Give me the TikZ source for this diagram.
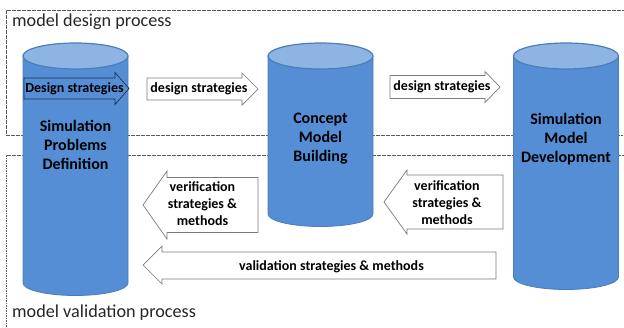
\documentclass[tikz,border=0pt]{standalone}
\usepackage{fontspec}
\setmainfont{Carlito}
\definecolor{cylblue}{HTML}{558ED5}
\definecolor{cyltop}{HTML}{8EB4E3}
\definecolor{cyledge}{HTML}{4A7EBB}
\definecolor{arrowgray}{HTML}{7A7A7A}
\definecolor{framegray}{HTML}{595959}
\definecolor{darknavy}{HTML}{1F3150}
\tikzset{
  process/.style={ % dashed frame of a process
    draw=framegray, line width=0.6pt,
    dash pattern=on 1.6pt off 0.9pt,
  },
  processlabel/.style={ % name of a process
    anchor=west, inner sep=0pt,
    font=\fontsize{18.2}{21}\selectfont, text=black!85,
  },
  cylbody/.style={ % side of a cylinder
    fill=cylblue, draw=cyledge, line width=0.8pt,
  },
  cyltopface/.style={ % lighter top of a cylinder
    fill=cyltop, draw=cyledge, line width=1.2pt,
  },
  stage/.style={ % text inside a cylinder
    align=center, inner sep=0pt,
    font=\bfseries\fontsize{16}{19}\selectfont,
  },
  blockarrow/.style={ % outlined block arrow
    fill=white, draw=arrowgray, line width=0.7pt, line join=miter,
  },
  arrowtext/.style={ % text on a block arrow
    align=center, inner sep=0pt,
    font=\bfseries\fontsize{14}{17}\selectfont,
  },
}

\begin{document}
\begin{tikzpicture}[x=1pt,y=-1pt]
  \useasboundingbox (0,0) rectangle (624,327);
  % the two processes
  \draw[process] (626,10) -- (6,10) -- (6,135) -- (626,135);
  \draw[process] (626,155) -- (6,155) -- (6,330);
  \node[processlabel] (design) at (12,22) {model design process};
  \node[processlabel] (validation) at (12,313) {model validation process};
  % cylinders
  \foreach \cx/\cb in {75.5/283, 320.5/214, 566/277}{
    \path[cylbody] (\cx-52.5,56) -- (\cx-52.5,\cb)
      arc[start angle=180, end angle=360, x radius=52.5pt, y radius=12.5pt]
      -- (\cx+52.5,56) -- cycle;
    \path[cyltopface] (\cx,56) ellipse[x radius=52.5pt, y radius=13pt];
  }
  \node[stage] (spd) at (75.5,145) {Simulation\\Problems\\Definition};
  \node[stage] (cmb) at (320.5,139) {Concept\\Model\\Building};
  \node[stage] (smd) at (566,139) {Simulation\\Model\\Development};
  % design arrows
  \draw[blockarrow, fill=cylblue, draw=darknavy] (24,78) -- (115,78) -- (115,72.5)
    -- (129,88.5) -- (115,104.5) -- (115,99) -- (24,99) -- cycle;
  \draw[blockarrow] (147,78) -- (242,78) -- (242,73) -- (258,89) -- (242,105)
    -- (242,100) -- (147,100) -- cycle;
  \draw[blockarrow] (390,75.5) -- (485,75.5) -- (485,71.5) -- (500,87)
    -- (485,102.5) -- (485,98.5) -- (390,98.5) -- cycle;
  % verification and validation arrows
  \draw[blockarrow] (258,177.5) -- (167,177.5) -- (167,171) -- (143,205)
    -- (167,239) -- (167,232.5) -- (258,232.5) -- cycle;
  \draw[blockarrow] (503,175) -- (407,175) -- (407,170) -- (384,202)
    -- (407,234) -- (407,229) -- (503,229) -- cycle;
  \draw[blockarrow] (496,252) -- (162,252) -- (162,246) -- (143,265)
    -- (162,284) -- (162,279) -- (496,279) -- cycle;
  \node[arrowtext] (ds0) at (74.5,88.5) {Design strategies};
  \node[arrowtext] (ds1) at (199,89) {design strategies};
  \node[arrowtext] (ds2) at (442,87) {design strategies};
  \node[arrowtext] (ver1) at (202.5,204) {verification\\strategies \&\\methods};
  \node[arrowtext] (ver2) at (447,203) {verification\\strategies \&\\methods};
  \node[arrowtext] (val) at (331.5,266.5) {validation strategies \& methods};
\end{tikzpicture}
\end{document}
